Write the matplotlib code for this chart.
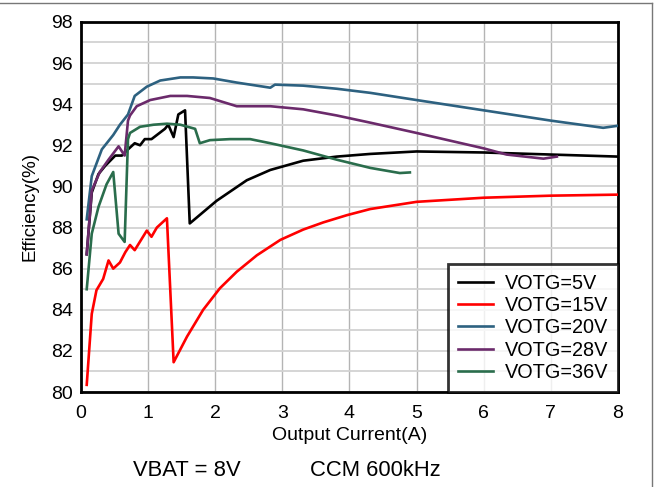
"""Boost-mode (OTG) efficiency vs output current at VBAT = 8V, CCM 600kHz."""

import matplotlib.pyplot as plt
from matplotlib.lines import Line2D

plt.rcParams["font.family"] = ["Liberation Sans", "DejaVu Sans"]

# Measured efficiency curves, one per OTG output voltage
i_5v = [0.085, 0.16, 0.26, 0.36, 0.51, 0.61, 0.70, 0.80, 0.88, 0.95, 1.05,
        1.25, 1.30, 1.38, 1.45, 1.55, 1.62, 2.02, 2.47, 2.82, 3.31, 3.81,
        4.31, 5.0, 6.0, 7.0, 8.0]
eff_5v = [86.7, 89.7, 90.6, 91.0, 91.5, 91.5, 91.8, 92.1, 92.0, 92.3, 92.3,
          92.8, 93.0, 92.4, 93.5, 93.7, 88.2, 89.3, 90.3, 90.8, 91.25, 91.45,
          91.58, 91.7, 91.65, 91.55, 91.45]

i_15v = [0.085, 0.16, 0.23, 0.33, 0.41, 0.48, 0.58, 0.66, 0.73, 0.80, 0.98,
         1.05, 1.13, 1.28, 1.38, 1.58, 1.82, 2.07, 2.32, 2.62, 2.97, 3.31,
         3.61, 3.96, 4.31, 5.0, 6.0, 7.0, 8.0]
eff_15v = [80.35, 83.8, 84.95, 85.5, 86.4, 86.0, 86.3, 86.8, 87.15, 86.9,
           87.85, 87.55, 88.0, 88.45, 81.45, 82.7, 84.0, 85.05, 85.85, 86.65,
           87.4, 87.9, 88.25, 88.6, 88.9, 89.25, 89.45, 89.55, 89.6]

i_20v = [0.085, 0.16, 0.31, 0.48, 0.58, 0.70, 0.80, 0.98, 1.18, 1.48, 1.67,
         1.97, 2.32, 2.62, 2.82, 2.89, 3.31, 3.81, 4.31, 5.0, 6.0, 7.0, 7.78,
         8.0]
eff_20v = [88.4, 90.5, 91.8, 92.5, 93.0, 93.5, 94.4, 94.85, 95.15, 95.3,
           95.3, 95.25, 95.05, 94.9, 94.8, 94.95, 94.9, 94.75, 94.55, 94.2,
           93.7, 93.2, 92.85, 92.95]

i_28v = [0.085, 0.16, 0.28, 0.41, 0.56, 0.65, 0.70, 0.73, 0.83, 1.03, 1.33,
         1.58, 1.92, 2.32, 2.82, 3.31, 3.81, 4.31, 5.0, 6.0, 6.34, 6.89, 7.09]
eff_28v = [86.7, 89.8, 90.7, 91.3, 91.95, 91.5, 93.2, 93.45, 93.9, 94.2,
           94.4, 94.4, 94.3, 93.9, 93.9, 93.75, 93.45, 93.1, 92.6, 91.85,
           91.55, 91.35, 91.45]

i_36v = [0.085, 0.16, 0.26, 0.38, 0.48, 0.56, 0.65, 0.70, 0.73, 0.88, 1.08,
         1.28, 1.48, 1.70, 1.77, 1.92, 2.22, 2.52, 2.82, 3.31, 3.81, 4.31,
         4.75, 4.90]
eff_36v = [85.0, 87.7, 89.0, 90.1, 90.7, 87.7, 87.3, 92.3, 92.6, 92.9, 93.0,
           93.05, 93.0, 92.8, 92.1, 92.25, 92.3, 92.3, 92.1, 91.75, 91.3,
           90.9, 90.65, 90.68]

series = [
    (i_5v, eff_5v, "VOTG=5V", "#000000"),
    (i_15v, eff_15v, "VOTG=15V", "#ff0000"),
    (i_20v, eff_20v, "VOTG=20V", "#2d6180"),
    (i_28v, eff_28v, "VOTG=28V", "#6b2a6b"),
    (i_36v, eff_36v, "VOTG=36V", "#2a6d4c"),
]

x_ticks = list(range(0, 9))
y_ticks = list(range(80, 99, 2))

fig = plt.figure(figsize=(6.56, 4.87), dpi=100)
ax = fig.add_axes([0.1235, 0.195, 0.8185, 0.76])

for x, y, label, color in series:
    ax.plot(x, y, color=color, linewidth=1.9, label=label, zorder=3)

ax.set_xlim(0, 8)
ax.set_ylim(80, 98)
ax.set_xticks(x_ticks)
ax.set_yticks(y_ticks)
ax.set_yticks(range(81, 98, 2), minor=True)
ax.tick_params(axis="both", which="both", length=0, labelsize=14)
ax.tick_params(axis="x", pad=9)
ax.tick_params(axis="y", pad=6)

ax.grid(True, axis="x", which="major", color="#b4b4b4", linewidth=1.0)
ax.grid(True, axis="y", which="both", color="#d2d2d2", linewidth=1.3)
ax.set_axisbelow(True)

for spine in ax.spines.values():
    spine.set_linewidth(2.0)
    spine.set_color("black")

ax.set_xlabel("Output Current(A)", fontsize=14, labelpad=4)
ax.set_ylabel("Efficiency(%)", fontsize=13.5, labelpad=9)

leg = ax.legend(loc="lower right", fontsize=14.3, frameon=True, fancybox=False,
                borderaxespad=0, handlelength=1.75, handletextpad=0.6,
                labelspacing=0.17, borderpad=0.5)
leg.get_frame().set_edgecolor("black")
leg.get_frame().set_linewidth(2.0)

fig.text(0.203, 0.033, "VBAT = 8V", fontsize=15.8, ha="left", va="center")
fig.text(0.473, 0.033, "CCM 600kHz", fontsize=15.8, ha="left", va="center")

# thin outer frame along the top and right edges
fig.add_artist(Line2D([0, 0.994], [0.993, 0.993], transform=fig.transFigure,
                      color="#777777", linewidth=1.0))
fig.add_artist(Line2D([0.994, 0.994], [0, 0.993], transform=fig.transFigure,
                      color="#777777", linewidth=1.0))

fig.savefig("out.png", dpi=100)
